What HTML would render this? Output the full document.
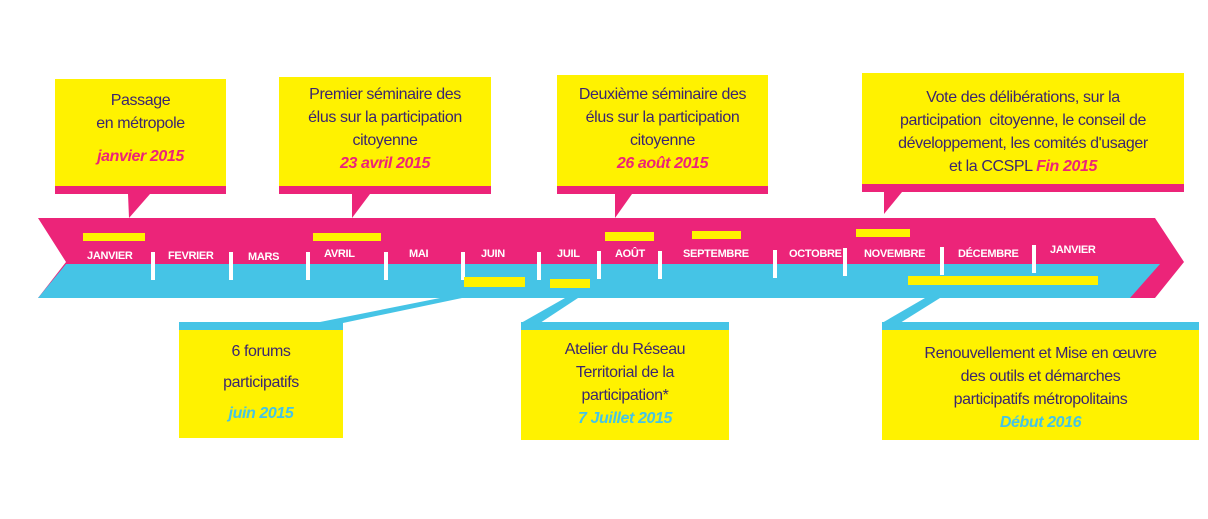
<!DOCTYPE html>
<html><head><meta charset="utf-8"><style>
body{margin:0;width:1208px;height:519px;background:#fff;position:relative;overflow:hidden;font-family:"Liberation Sans Narrow","Liberation Sans",sans-serif}
.b{position:absolute;background:#fff200;color:#3b2670;text-align:center;font-size:16px;letter-spacing:-0.4px;line-height:23px;box-sizing:border-box}
.d{font-style:italic;font-weight:bold;color:#ec2479}
.c{font-style:italic;font-weight:bold;color:#45c4e6}
.m{position:absolute;font-weight:bold;color:#fff;font-size:11px;letter-spacing:-0.3px;top:248px}
</style></head><body>
<svg width="1208" height="519" style="position:absolute;left:0;top:0">
<polygon points="38,218 1155,218 1184,262 1155,298 38,298 66,262" fill="#ec2479"/>
<polygon points="66,264 1160,264 1130,298 38,298" fill="#45c4e6"/>
<g fill="#fff">
<rect x="151" y="252" width="4" height="28"/><rect x="229" y="252" width="4" height="28"/><rect x="306" y="252" width="4" height="28"/><rect x="384" y="252" width="4" height="28"/><rect x="461" y="252" width="4" height="28"/><rect x="537" y="252" width="4" height="28"/><rect x="597" y="251" width="4" height="28"/><rect x="658" y="251" width="4" height="28"/><rect x="773" y="250" width="4" height="28"/><rect x="843" y="248" width="4" height="28"/><rect x="940" y="247" width="4" height="28"/><rect x="1032" y="245" width="4" height="28"/>
</g>
<g fill="#fff200">
<rect x="83" y="233" width="62" height="8"/><rect x="313" y="233" width="68" height="8"/><rect x="605" y="232" width="49" height="9"/><rect x="692" y="231" width="49" height="8"/><rect x="856" y="229" width="54" height="8"/>
<rect x="464" y="277" width="61" height="10"/><rect x="550" y="279" width="40" height="9"/><rect x="908" y="276" width="190" height="9"/>
</g>
<g fill="#ec2479">
<rect x="55" y="186" width="171" height="8"/><polygon points="128,194 150,194 129,218"/>
<rect x="279" y="186" width="212" height="8"/><polygon points="352,194 370,194 352,218"/>
<rect x="557" y="186" width="211" height="8"/><polygon points="615,194 632,194 615,218"/>
<rect x="862" y="184" width="322" height="8"/><polygon points="884,192 902,192 884,214"/>
</g>
<g fill="#45c4e6">
<rect x="179" y="322" width="164" height="8"/><polygon points="315,323 343,323 462,298 440,298"/>
<rect x="521" y="322" width="208" height="8"/><polygon points="521,323 540,323 578,298 565,298"/>
<rect x="882" y="322" width="317" height="8"/><polygon points="882,323 900,323 940,298 925,298"/>
</g>
</svg>
<div class="m" style="left:87px;top:250px">JANVIER</div>
<div class="m" style="left:168px;top:250px">FEVRIER</div>
<div class="m" style="left:248px;top:251px">MARS</div>
<div class="m" style="left:324px">AVRIL</div>
<div class="m" style="left:409px">MAI</div>
<div class="m" style="left:481px">JUIN</div>
<div class="m" style="left:557px">JUIL</div>
<div class="m" style="left:615px">AOÛT</div>
<div class="m" style="left:683px">SEPTEMBRE</div>
<div class="m" style="left:789px">OCTOBRE</div>
<div class="m" style="left:864px">NOVEMBRE</div>
<div class="m" style="left:958px">DÉCEMBRE</div>
<div class="m" style="left:1050px;top:244px">JANVIER</div>

<div class="b" style="left:55px;top:79px;width:171px;height:107px;padding-top:10px">Passage<br>en métropole<div class="d" style="margin-top:10px">janvier 2015</div></div>
<div class="b" style="left:279px;top:77px;width:212px;height:109px;padding-top:6px">Premier séminaire des<br>élus sur la participation<br>citoyenne<div class="d">23 avril 2015</div></div>
<div class="b" style="left:557px;top:75px;width:211px;height:111px;padding-top:8px">Deuxième séminaire des<br>élus sur la participation<br>citoyenne<div class="d">26 août 2015</div></div>
<div class="b" style="left:862px;top:73px;width:322px;height:111px;padding-top:13px">Vote des délibérations, sur la<br>participation&nbsp; citoyenne, le conseil de<br>développement, les comités d'usager<br>et la CCSPL <span class="d">Fin 2015</span></div>

<div class="b" style="left:179px;top:330px;width:164px;height:108px;padding-top:6px;line-height:31px">6 forums<br>participatifs<div class="c">juin 2015</div></div>
<div class="b" style="left:521px;top:330px;width:208px;height:110px;padding-top:8px">Atelier du Réseau<br>Territorial de la<br>participation*<div class="c">7 Juillet 2015</div></div>
<div class="b" style="left:882px;top:330px;width:317px;height:110px;padding-top:12px">Renouvellement et Mise en œuvre<br>des outils et démarches<br>participatifs métropolitains<div class="c">Début 2016</div></div>
</body></html>
